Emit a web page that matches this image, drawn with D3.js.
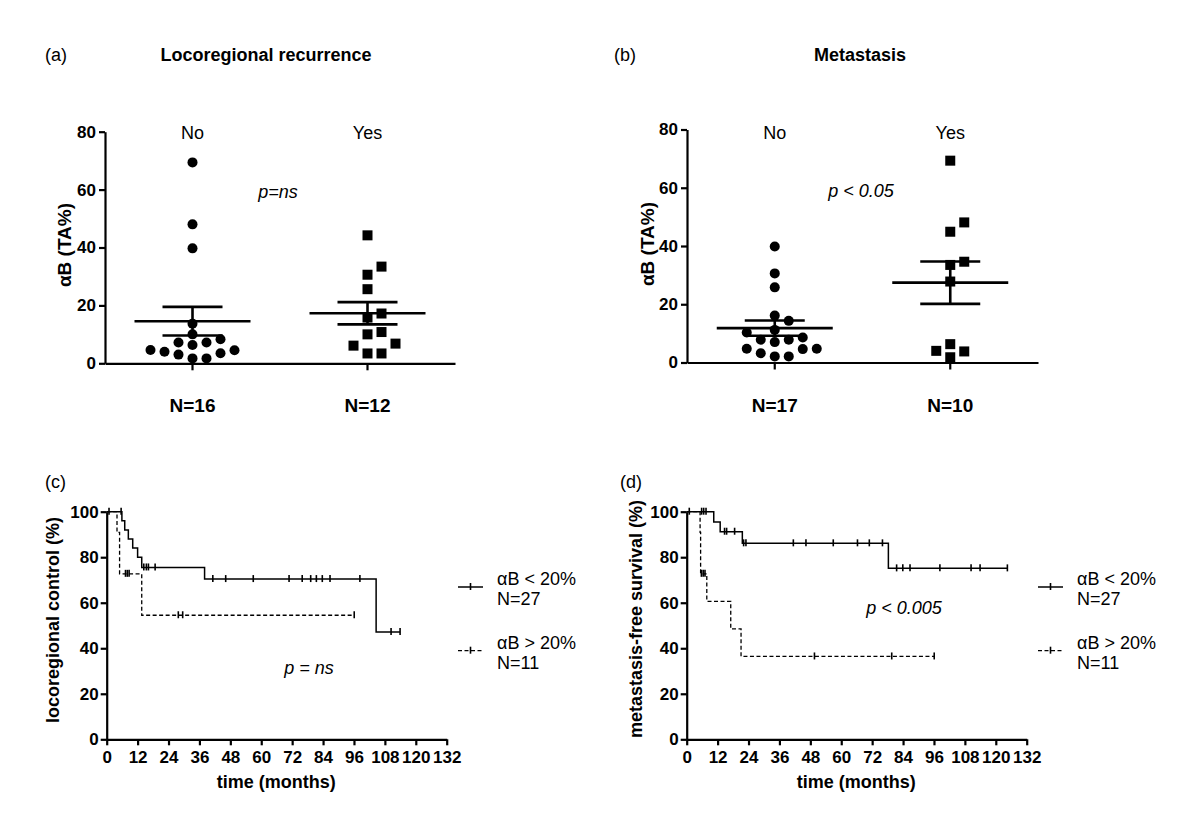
<!DOCTYPE html>
<html>
<head>
<meta charset="utf-8">
<script src="https://cdn.jsdelivr.net/npm/d3@7"></script>
<style>
  html, body { margin: 0; padding: 0; background: #fff; }
  svg { display: block; }
  text { font-family: "Liberation Sans", Arial, sans-serif; fill: #000; }
</style>
</head>
<body>
<svg id="chart" width="1200" height="831"></svg>
<script>
// ---------------- DATA ----------------
const groupCats = ["No", "Yes"];
const scatterYTicks = [0, 20, 40, 60, 80];

// (a) Locoregional recurrence, αB (TA%)
const locoNo  = [69.4, 48.0, 39.7, 13.7, 10.0, 8.3, 7.2, 7.2, 6.3, 4.6, 4.5, 4.0, 3.5, 3.0, 1.7, 1.7];
const locoYes = [44.2, 33.4, 30.6, 25.6, 17.2, 15.8, 10.8, 10.0, 6.8, 6.1, 3.4, 3.4];
const locoN   = ["N=16", "N=12"];

// (b) Metastasis, αB (TA%)
const metaNo  = [39.8, 30.6, 25.8, 16.1, 14.3, 11.2, 10.3, 8.6, 7.8, 7.8, 7.0, 4.7, 4.6, 4.7, 3.2, 2.1, 2.1];
const metaYes = [69.3, 48.1, 44.9, 34.6, 33.5, 27.8, 6.3, 4.0, 3.8, 1.8];
const metaN   = ["N=17", "N=10"];

// Kaplan-Meier axes
const kmXTicks = [0, 12, 24, 36, 48, 60, 72, 84, 96, 108, 120, 132];
const kmYTicks = [0, 20, 40, 60, 80, 100];

// (c) locoregional control (%): step times (months) and survival after step
const cLowTimes   = [0, 5.9, 7.0, 8.4, 10.1, 12.0, 13.6, 38.0, 104.6];
const cLowSurv    = [100, 96, 92, 88, 84, 80, 75.5, 70.4, 47.1];
const cLowCensor  = [0.9, 5.6, 14.4, 15.4, 16.2, 18.8, 41.2, 46.2, 56.9, 70.8, 75.9, 79.2, 81.4, 83.7, 86.7, 98.3, 110.4, 113.9];
const cHighTimes  = [0, 4.0, 5.0, 13.6];
const cHighSurv   = [100, 90.9, 72.7, 54.5];
const cHighCensor = [7.3, 8.0, 8.7, 27.8, 29.5, 96.1];

// (d) metastasis-free survival (%)
const dLowTimes   = [0, 10.5, 13.0, 21.6, 78.3];
const dLowSurv    = [100, 95.5, 91.2, 86.1, 75.1];
const dLowCensor  = [1.0, 5.8, 6.6, 7.5, 14.7, 15.5, 18.6, 22.1, 23.0, 41.4, 46.3, 56.9, 66.3, 70.9, 76.0, 81.5, 83.9, 86.7, 98.3, 110.4, 113.9, 124.5];
const dHighTimes  = [0, 5.2, 5.4, 7.8, 17.1, 21.1];
const dHighSurv   = [100, 90.9, 72.7, 60.6, 48.5, 36.4];
const dHighCensor = [5.7, 6.4, 7.1, 49.6, 79.6, 96.1];

const legendLabels = [["\u03B1B < 20%", "N=27"], ["\u03B1B > 20%", "N=11"]];

// ---------------- DRAWING ----------------
const svg = d3.select("#chart");
const FONT = "'Liberation Sans', Arial, sans-serif";

function txt(x, y, s, opts = {}) {
  return svg.append("text")
    .attr("x", x).attr("y", y)
    .attr("text-anchor", opts.anchor || "start")
    .style("font-size", (opts.size || 18) + "px")
    .style("font-weight", opts.bold ? "bold" : "normal")
    .style("font-style", opts.italic ? "italic" : "normal")
    .attr("transform", opts.rotate ? `rotate(-90,${x},${y})` : null)
    .text(s);
}

function styleAxis(g, fontSize) {
  g.select(".domain").attr("stroke", "#000").attr("stroke-width", 2.2);
  g.selectAll(".tick line").attr("stroke", "#000").attr("stroke-width", 2.2);
  g.selectAll(".tick text")
    .style("font-family", FONT).style("font-size", fontSize + "px")
    .style("font-weight", "bold").attr("fill", "#000");
}

// simple beeswarm: place points bottom-up in the nearest free column
function swarm(values, y, step) {
  const order = values.map((v, i) => i).sort((a, b) => values[a] - values[b]);
  const placed = [];
  const offs = new Array(values.length);
  order.forEach(i => {
    const py = y(values[i]);
    for (let k = 0; k < 20; k++) {
      const m = Math.ceil(k / 2) * (k % 2 === 1 ? 1 : -1);
      const dx = m * step;
      const hit = placed.some(p => Math.abs(p.dx - dx) < step - 1 && Math.abs(p.py - py) < 10);
      if (!hit) { offs[i] = dx; placed.push({dx, py}); break; }
    }
  });
  return offs;
}

function meanSem(a) {
  const m = d3.mean(a);
  const sd = d3.deviation(a);
  return [m, sd / Math.sqrt(a.length)];
}

function scatterPanel(cfg) {
  const x = d3.scaleBand().domain(groupCats).range([cfg.x0, cfg.x1]);
  const y = d3.scaleLinear().domain([0, 80]).range([cfg.yBottom, cfg.yTop]);

  const gy = svg.append("g").attr("transform", `translate(${cfg.x0},0)`)
    .call(d3.axisLeft(y).tickValues(scatterYTicks).tickSize(6).tickPadding(3).tickSizeOuter(0));
  styleAxis(gy, 17);
  const gx = svg.append("g").attr("transform", `translate(0,${cfg.yBottom})`)
    .call(d3.axisBottom(x).tickSize(7).tickSizeOuter(0).tickFormat(""));
  styleAxis(gx, 17);

  const groups = [cfg.no, cfg.yes];
  groups.forEach((vals, gi) => {
    const cx = x(groupCats[gi]) + x.bandwidth() / 2;
    const offs = swarm(vals, y, 14);
    if (gi === 0) {
      svg.append("g").selectAll("circle").data(vals).join("circle")
        .attr("cx", (d, i) => cx + offs[i]).attr("cy", d => y(d)).attr("r", 5).attr("fill", "#000");
    } else {
      svg.append("g").selectAll("rect").data(vals).join("rect")
        .attr("x", (d, i) => cx + offs[i] - 5).attr("y", d => y(d) - 5)
        .attr("width", 10).attr("height", 10).attr("fill", "#000");
    }
    const [m, se] = meanSem(vals);
    const g = svg.append("g").attr("stroke", "#000").attr("stroke-width", 2.6);
    g.append("line").attr("x1", cx - 58).attr("x2", cx + 58).attr("y1", y(m)).attr("y2", y(m));
    g.append("line").attr("x1", cx).attr("x2", cx).attr("y1", y(m - se)).attr("y2", y(m + se));
    g.append("line").attr("x1", cx - 30).attr("x2", cx + 30).attr("y1", y(m + se)).attr("y2", y(m + se));
    g.append("line").attr("x1", cx - 30).attr("x2", cx + 30).attr("y1", y(m - se)).attr("y2", y(m - se));

    txt(cx, 139, groupCats[gi], {anchor: "middle", size: 18});
    txt(cx, 412, cfg.nLabels[gi], {anchor: "middle", size: 19, bold: true});
  });

  txt(cfg.ylabX, cfg.ylabY, "\u03B1B (TA%)", {anchor: "middle", size: 19, bold: true, rotate: true});
  txt(cfg.pX, cfg.pY, cfg.pText, {anchor: "middle", size: 18, italic: true});
}

function stepFn(times, surv) {
  return t => { let v = surv[0]; for (let i = 0; i < times.length; i++) if (t >= times[i]) v = surv[i]; return v; };
}

function kmPanel(cfg) {
  const x = d3.scaleLinear().domain([0, 132]).range([cfg.x0, cfg.x1]);
  const y = d3.scaleLinear().domain([0, 100]).range([739.3, 511.7]);

  const gy = svg.append("g").attr("transform", `translate(${cfg.x0},0)`)
    .call(d3.axisLeft(y).tickValues(kmYTicks).tickSize(6).tickPadding(2).tickSizeOuter(0));
  styleAxis(gy, 17);
  const gx = svg.append("g").attr("transform", `translate(0,739.3)`)
    .call(d3.axisBottom(x).tickValues(kmXTicks).tickSize(6).tickPadding(6).tickSizeOuter(0));
  styleAxis(gx, 17);

  const line = d3.line().x(d => x(d[0])).y(d => y(d[1])).curve(d3.curveStepAfter);
  cfg.curves.forEach(c => {
    const pts = c.times.map((t, i) => [t, c.surv[i]]);
    const end = d3.max(c.censor);
    pts.push([end, c.surv[c.surv.length - 1]]);
    svg.append("path").attr("d", line(pts)).attr("fill", "none")
      .attr("stroke", "#000").attr("stroke-width", c.dashed ? 1.3 : 1.5)
      .attr("stroke-dasharray", c.dashed ? "4,2.5" : null);
    const f = stepFn(c.times, c.surv);
    svg.append("g").selectAll("line").data(c.censor).join("line")
      .attr("x1", d => x(d)).attr("x2", d => x(d))
      .attr("y1", d => y(f(d)) - 4).attr("y2", d => y(f(d)) + 3)
      .attr("stroke", "#000").attr("stroke-width", 1.6);
  });

  // legend
  const lx = cfg.legendX;
  [[587, false], [650.7, true]].forEach(([ly, dashed], i) => {
    svg.append("line").attr("x1", lx).attr("x2", lx + 25).attr("y1", ly).attr("y2", ly)
      .attr("stroke", "#000").attr("stroke-width", dashed ? 1.3 : 1.5)
      .attr("stroke-dasharray", dashed ? "4,2.5" : null);
    svg.append("line").attr("x1", lx + 12.5).attr("x2", lx + 12.5).attr("y1", ly - 4).attr("y2", ly + 3)
      .attr("stroke", "#000").attr("stroke-width", 1.6);
    const base = i === 0 ? 584.5 : 649;
    txt(lx + 39, base, legendLabels[i][0], {size: 18});
    txt(lx + 39, base + 20, legendLabels[i][1], {size: 18});
  });

  txt(cfg.ylabX, cfg.ylabY, cfg.ylab, {anchor: "middle", size: 18, bold: true, rotate: true});
  txt((cfg.x0 + cfg.x1) / 2 - 0.5, 788, "time (months)", {anchor: "middle", size: 18, bold: true});
  txt(cfg.pX, cfg.pY, cfg.pText, {anchor: "middle", size: 18, italic: true});
}

// titles
txt(45, 61, "(a)", {size: 18});
txt(266, 61, "Locoregional recurrence", {anchor: "middle", size: 18, bold: true});
txt(614, 61, "(b)", {size: 18});
txt(860, 61, "Metastasis", {anchor: "middle", size: 18, bold: true});
txt(45, 488, "(c)", {size: 18});
txt(620, 488, "(d)", {size: 18});

scatterPanel({x0: 105, x1: 455, yBottom: 363.3, yTop: 131.7, no: locoNo, yes: locoYes, nLabels: locoN,
  ylabX: 71, ylabY: 245, pX: 278, pY: 198, pText: "p=ns"});
scatterPanel({x0: 687, x1: 1038, yBottom: 362.5, yTop: 129.5, no: metaNo, yes: metaYes, nLabels: metaN,
  ylabX: 654, ylabY: 244, pX: 861, pY: 197, pText: "p < 0.05"});

kmPanel({x0: 106.7, x1: 446.7, legendX: 458, ylab: "locoregional control (%)", ylabX: 59, ylabY: 620,
  pX: 309, pY: 674, pText: "p = ns",
  curves: [
    {times: cLowTimes, surv: cLowSurv, censor: cLowCensor, dashed: false},
    {times: cHighTimes, surv: cHighSurv, censor: cHighCensor, dashed: true}
  ]});
kmPanel({x0: 686.7, x1: 1026.7, legendX: 1038, ylab: "metastasis-free survival (%)", ylabX: 642, ylabY: 619,
  pX: 904, pY: 614, pText: "p < 0.005",
  curves: [
    {times: dLowTimes, surv: dLowSurv, censor: dLowCensor, dashed: false},
    {times: dHighTimes, surv: dHighSurv, censor: dHighCensor, dashed: true}
  ]});
</script>
</body>
</html>
